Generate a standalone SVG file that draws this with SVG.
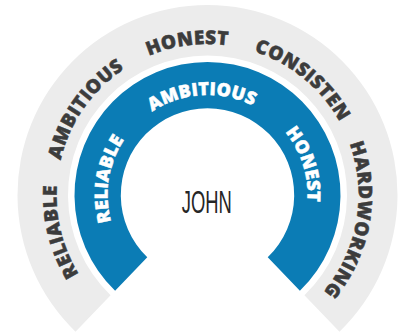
<svg xmlns="http://www.w3.org/2000/svg" xmlns:xlink="http://www.w3.org/1999/xlink" width="406" height="335" viewBox="0 0 406 335">
  <defs>
    <path id="outerPath" d="M 207.5 346 A 151 151 0 1 1 207.5 44 A 151 151 0 1 1 207.5 346"/>
    <path id="innerPath" d="M 207.5 295 A 100 100 0 1 1 207.5 95 A 100 100 0 1 1 207.5 295"/>
    <style>
      .outer-txt { font-family: "Open Sans", "Liberation Sans", sans-serif; font-weight: 800; font-size: 19px; fill: #3c3c3c; stroke: #3c3c3c; stroke-width: 0.5px; letter-spacing: 0.5px; }
      .inner-txt { font-family: "Open Sans", "Liberation Sans", sans-serif; font-weight: 800; font-size: 18px; fill: #ffffff; stroke: #ffffff; stroke-width: 0.5px; letter-spacing: 0.2px; }
      .name { font-family: "Liberation Sans", "DejaVu Sans", sans-serif; font-size: 31px; fill: #262626; }
    </style>
  </defs>
  <rect width="406" height="335" fill="#ffffff"/>
  <g id="outer-ring">
    <path d="M 75.51 331.67 A 190 190 0 1 1 339.49 331.67 L 304.41 295.35 A 139.5 139.5 0 1 0 110.59 295.35 Z" fill="#ececec"/>
    <text class="outer-txt" text-anchor="middle"><textPath xlink:href="#outerPath" href="#outerPath" startOffset="200.3">RELIABLE</textPath></text>
    <text class="outer-txt" text-anchor="middle"><textPath xlink:href="#outerPath" href="#outerPath" startOffset="329.4">AMBITIOUS</textPath></text>
    <text class="outer-txt" text-anchor="middle"><textPath xlink:href="#outerPath" href="#outerPath" startOffset="454.4">HONEST</textPath></text>
    <text class="outer-txt" text-anchor="middle"><textPath xlink:href="#outerPath" href="#outerPath" startOffset="578.5">CONSISTEN</textPath></text>
    <text class="outer-txt" text-anchor="middle"><textPath xlink:href="#outerPath" href="#outerPath" startOffset="737.9">HARDWORKING</textPath></text>
  </g>
  <g id="inner-ring">
    <path d="M 115.11 290.67 A 133 133 0 1 1 299.89 290.67 L 267.73 257.37 A 86.7 86.7 0 1 0 147.27 257.37 Z" fill="#0b7cb5"/>
    <text class="inner-txt" text-anchor="middle"><textPath xlink:href="#innerPath" href="#innerPath" startOffset="172.8">RELIABLE</textPath></text>
    <text class="inner-txt" text-anchor="middle"><textPath xlink:href="#innerPath" href="#innerPath" startOffset="307.9">AMBITIOUS</textPath></text>
    <text class="inner-txt" text-anchor="middle"><textPath xlink:href="#innerPath" href="#innerPath" startOffset="439.8">HONEST</textPath></text>
  </g>
  <g id="center">
    <text class="name" x="206.7" y="212.5" text-anchor="middle" textLength="50" lengthAdjust="spacingAndGlyphs">JOHN</text>
  </g>
</svg>
